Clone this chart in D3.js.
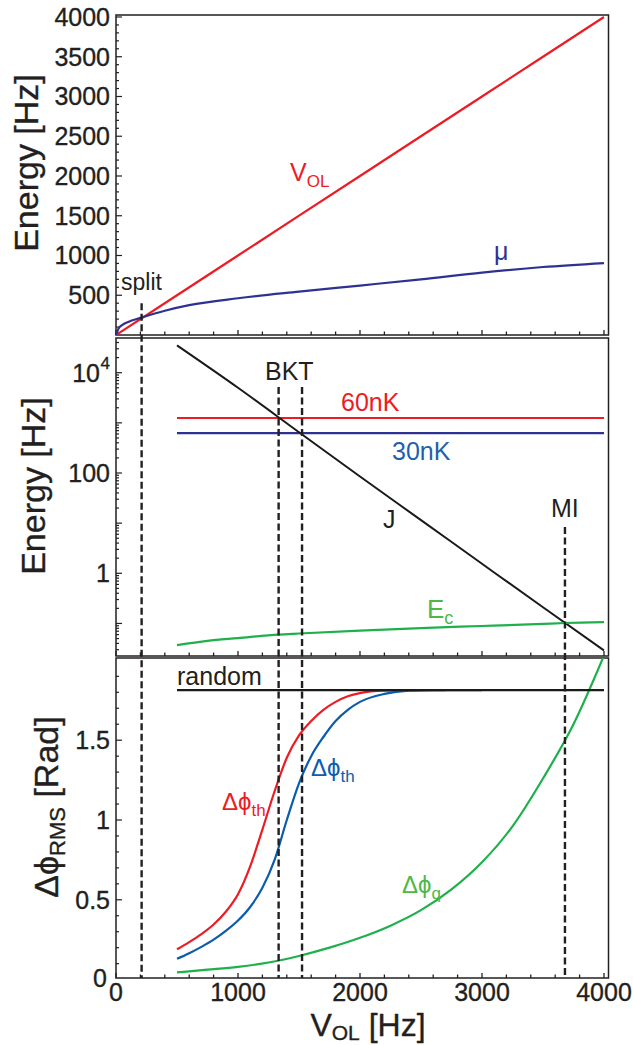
<!DOCTYPE html>
<html>
<head>
<meta charset="utf-8">
<script src="https://cdn.jsdelivr.net/npm/d3@7"></script>
<style>
  body { margin: 0; background: #fff; }
  svg text { font-family: "Liberation Sans", Arial, Helvetica, sans-serif; fill: #231f20; }
  svg text.heavy { stroke: #231f20; stroke-width: 0.35px; }
</style>
</head>
<body>
<svg id="chart" width="633" height="1045"></svg>
<script>
// ---- shared lattice depth axis (Hz) ----
const xTickValues = [0, 1000, 2000, 3000, 4000];

// ---- top panel: energies vs lattice depth ----
const volDepth  = [0, 1000, 2000, 3000, 4000];
const volEnergy = [0, 1000, 2000, 3000, 4000];
const muDepth   = [0, 20, 50, 100, 200, 400, 600, 1000, 1500, 2000, 2500, 3000, 3500, 4000];
const muEnergy  = [0, 80, 125, 165, 215, 305, 375, 462, 545, 622, 700, 785, 855, 905];
const topTicks  = [500, 1000, 1500, 2000, 2500, 3000, 3500, 4000];

// ---- middle panel: energy scales (log) ----
const jDepth    = [500, 1000, 1500, 2000, 2500, 3000, 3500, 4000];
const jEnergy   = [35000, 5000, 650, 85, 11.5, 1.55, 0.21, 0.029];
const ecDepth   = [500, 750, 1000, 1333, 1500, 2000, 2500, 3000, 3500, 3680, 4000];
const ecEnergy  = [0.037, 0.045, 0.051, 0.060, 0.063, 0.072, 0.081, 0.089, 0.098, 0.102, 0.106];
const thermalRange = [500, 4000];
const t60nK = 1250;
const t30nK = 625;

// ---- bottom panel: relative phase fluctuations ----
const phDepth    = [500, 600, 700, 800, 900, 1000, 1100, 1200, 1300, 1400, 1500, 1600, 1700, 1800, 1900, 2000, 2200, 2500, 2700];
const phTh60     = [0.19, 0.235, 0.285, 0.345, 0.425, 0.535, 0.71, 0.94, 1.18, 1.39, 1.53, 1.62, 1.69, 1.74, 1.775, 1.795, 1.81, 1.814, 1.814];
const phDepthB   = [500, 600, 700, 800, 900, 1000, 1100, 1200, 1300, 1400, 1500, 1600, 1700, 1800, 1900, 2000, 2200, 2400, 2600, 3000];
const phTh30     = [0.13, 0.165, 0.205, 0.25, 0.305, 0.37, 0.455, 0.575, 0.75, 1.0, 1.23, 1.40, 1.52, 1.62, 1.69, 1.74, 1.79, 1.81, 1.814, 1.814];
const qDepth     = [500, 750, 1000, 1250, 1500, 1750, 2000, 2250, 2500, 2750, 3000, 3250, 3500, 3750, 4000];
const phQuantum  = [0.045, 0.062, 0.08, 0.107, 0.148, 0.20, 0.262, 0.338, 0.435, 0.565, 0.735, 0.96, 1.26, 1.60, 2.03];
const randomPhase = 1.814;
const bottomTicks = [0.5, 1, 1.5];

// ---- transition markers ----
const splitDepth = 210, splitTop = 400;
const bktDepths = [1333, 1525], bktTop = 5200;
const miDepth = 3680, miTop = 8.4;

// ---- colours ----
const RED = "#ed1c24", NAVY = "#2e3192", BLUE = "#0b5cad", GREEN = "#1db04b", INK = "#231f20";

const svg = d3.select("#chart");

// ---- scales ----
const x = d3.scaleLinear().domain([0, 4037]).range([116, 608.5]);
const yTop = d3.scaleLinear().domain([0, 4025]).range([335, 15]);
const yMid = d3.scaleLog().domain([0.02244, 49200]).range([656, 338]);
const yBot = d3.scaleLinear().domain([0.01, 2.015]).range([978, 658]);

const panels = [
  { y: yTop, top: 15, bottom: 335, id: "top" },
  { y: yMid, top: 338, bottom: 656, id: "mid" },
  { y: yBot, top: 658, bottom: 978, id: "bot" }
];

// clip paths per panel
const defs = svg.append("defs");
panels.forEach(p => {
  defs.append("clipPath").attr("id", "clip-" + p.id)
    .append("rect").attr("x", x.range()[0]).attr("y", p.top)
    .attr("width", x.range()[1] - x.range()[0]).attr("height", p.bottom - p.top);
});

// ---- frames and x ticks (inward, along each panel's bottom edge) ----
const xMinor = d3.range(0, 4001, 200);
panels.forEach(p => {
  svg.append("rect")
    .attr("x", x.range()[0]).attr("y", p.top)
    .attr("width", x.range()[1] - x.range()[0]).attr("height", p.bottom - p.top)
    .attr("fill", "none").attr("stroke", INK).attr("stroke-width", 1.5);
  svg.append("g").selectAll("line").data(xMinor).join("line")
    .attr("x1", d => x(d)).attr("x2", d => x(d))
    .attr("y1", p.bottom).attr("y2", d => p.bottom - (d % 1000 === 0 ? 5 : 3.5))
    .attr("stroke", INK).attr("stroke-width", 1.3);
});

// ---- y ticks ----
function yTicks(scale, values, len) {
  svg.append("g").selectAll("line").data(values).join("line")
    .attr("x1", x.range()[0]).attr("x2", x.range()[0] + len)
    .attr("y1", d => scale(d)).attr("y2", d => scale(d))
    .attr("stroke", INK).attr("stroke-width", 1.2);
}
yTicks(yTop, d3.range(100, 4001, 100).filter(v => v % 500 !== 0), 3);
yTicks(yTop, topTicks, 6);
const logMinor = [];
for (let k = -2; k <= 4; k++) for (let m = 2; m <= 9; m++) {
  const v = m * Math.pow(10, k);
  if (v > yMid.domain()[0] && v < yMid.domain()[1]) logMinor.push(v);
}
yTicks(yMid, logMinor, 3);
yTicks(yMid, [0.1, 1, 10, 100, 1000, 10000], 6);
yTicks(yBot, d3.range(0.1, 2.0, 0.1).filter(v => Math.abs(v * 2 - Math.round(v * 2)) > 1e-6), 3);
yTicks(yBot, bottomTicks, 6);

// ---- tick labels ----
const tickFont = 25;
svg.append("g").selectAll("text").data(topTicks).join("text").attr("class", "heavy")
  .attr("x", 110).attr("y", d => yTop(d)).attr("dy", "0.36em")
  .attr("text-anchor", "end").attr("font-size", tickFont).text(d => d);

const midLabels = svg.append("g");
midLabels.append("text").attr("class", "heavy").attr("x", 100).attr("y", yMid(10000)).attr("dy", "0.36em")
  .attr("text-anchor", "end").attr("font-size", tickFont).text("10");
midLabels.append("text").attr("class", "heavy").attr("x", 100.5).attr("y", yMid(10000) - 4)
  .attr("font-size", 17).text("4");
midLabels.selectAll("text.p").data([100, 1]).join("text").attr("class", "p heavy")
  .attr("x", 110).attr("y", d => yMid(d)).attr("dy", "0.36em")
  .attr("text-anchor", "end").attr("font-size", tickFont).text(d => d);

svg.append("g").selectAll("text").data(bottomTicks).join("text").attr("class", "heavy")
  .attr("x", 110).attr("y", d => yBot(d)).attr("dy", "0.36em")
  .attr("text-anchor", "end").attr("font-size", tickFont).text(d => d);
svg.append("text").attr("class", "heavy").attr("x", 107).attr("y", yBot(0)).attr("dy", "0.3em")
  .attr("text-anchor", "end").attr("font-size", tickFont).text("0");

svg.append("g").selectAll("text").data(xTickValues).join("text").attr("class", "heavy")
  .attr("x", d => x(d)).attr("y", 1001)
  .attr("text-anchor", "middle").attr("font-size", tickFont).text(d => d);

// ---- axis titles ----
function yTitle(cx, cy, build) {
  const t = svg.append("text").attr("class", "heavy")
    .attr("transform", `translate(${cx},${cy}) rotate(-90)`)
    .attr("text-anchor", "middle").attr("font-size", 34);
  build(t);
}
yTitle(38, 163, t => t.text("Energy [Hz]"));
yTitle(45, 486, t => t.text("Energy [Hz]"));
yTitle(58, 807, t => {
  t.append("tspan").text("Δϕ");
  t.append("tspan").attr("font-size", 22).attr("dy", 7).text("RMS");
  t.append("tspan").attr("dy", -7).text(" [Rad]");
});
const xt = svg.append("text").attr("class", "heavy").attr("x", 368).attr("y", 1036)
  .attr("text-anchor", "middle").attr("font-size", 32);
xt.append("tspan").text("V");
xt.append("tspan").attr("font-size", 21).attr("dy", 4).text("OL");
xt.append("tspan").attr("dy", -4).text(" [Hz]");

// ---- line helper ----
function series(xs, ys, yScale, clipId, color, width) {
  const pts = xs.map((d, i) => [d, ys[i]]);
  svg.append("path").datum(pts)
    .attr("clip-path", `url(#clip-${clipId})`)
    .attr("fill", "none").attr("stroke", color).attr("stroke-width", width || 2.2)
    .attr("stroke-linejoin", "round")
    .attr("d", d3.line().x(d => x(d[0])).y(d => yScale(d[1])).curve(d3.curveMonotoneX));
}

// top panel curves
series(volDepth, volEnergy, yTop, "top", RED);
series(muDepth, muEnergy, yTop, "top", NAVY);

// middle panel curves
series(thermalRange, [t60nK, t60nK], yMid, "mid", RED);
series(thermalRange, [t30nK, t30nK], yMid, "mid", NAVY);
series(jDepth, jEnergy, yMid, "mid", "#1a1a1a", 2);
series(ecDepth, ecEnergy, yMid, "mid", GREEN);

// bottom panel curves
series(phDepth, phTh60, yBot, "bot", RED);
series(phDepthB, phTh30, yBot, "bot", BLUE);
series(qDepth, phQuantum, yBot, "bot", GREEN);
series(thermalRange, [randomPhase, randomPhase], yBot, "bot", "#1a1a1a", 2.2);

// ---- dashed transition markers ----
function marker(depth, yStart) {
  svg.append("line")
    .attr("x1", x(depth)).attr("x2", x(depth))
    .attr("y1", yStart).attr("y2", yBot.range()[0])
    .attr("stroke", INK).attr("stroke-width", 2.4).attr("stroke-dasharray", "7,3.5");
}
marker(splitDepth, yTop(splitTop));
bktDepths.forEach(d => marker(d, yMid(bktTop)));
marker(miDepth, yMid(miTop));

// ---- in-plot labels ----
function label(px, py, color, size, main, sub, subSize, subDy) {
  const t = svg.append("text").attr("x", px).attr("y", py)
    .attr("font-size", size).style("fill", color);
  t.append("tspan").text(main);
  if (sub) t.append("tspan").attr("font-size", subSize).attr("dy", subDy).text(sub);
  return t;
}
label(290, 181, RED, 25, "V", "OL", 17, 6);
label(494, 260, NAVY, 25, "μ");
label(121, 290, INK, 23, "split");
label(265, 380, INK, 25, "BKT");
label(341, 411, RED, 25, "60nK");
label(392, 460, "#1f5fae", 25, "30nK");
label(383, 528, INK, 25, "J");
label(551, 517, INK, 25, "MI");
label(427, 618, "#4db848", 26, "E", "c", 18, 6);
label(177, 685, INK, 25, "random");
label(222, 810, RED, 24, "Δϕ", "th", 17, 6);
label(311, 776, BLUE, 24, "Δϕ", "th", 17, 6);
label(402, 893, "#4db848", 24, "Δϕ", "q", 17, 6);
</script>
</body>
</html>
